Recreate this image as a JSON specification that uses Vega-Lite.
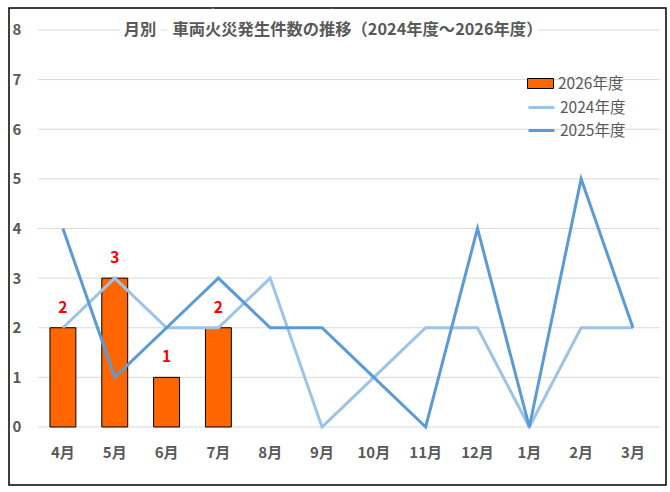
{
  "$schema": "https://vega.github.io/schema/vega-lite/v6.json",
  "width": 657,
  "height": 477,
  "autosize": "none",
  "padding": {"left": 9, "top": 8, "right": 4, "bottom": 7},
  "background": "white",
  "config": {
    "font": "Noto Sans CJK JP",
    "view": {"stroke": "black", "strokeWidth": 1.5},
    "legend": {"labelFont": "Noto Sans CJK JP", "labelFontSize": 15.5, "labelColor": "#595959", "padding": 0, "labelOffset": 4, "rowPadding": -4}
  },
  "data": {
    "values": [
      {"month": "4月", "series": "2026年度", "count": 2},
      {"month": "5月", "series": "2026年度", "count": 3},
      {"month": "6月", "series": "2026年度", "count": 1},
      {"month": "7月", "series": "2026年度", "count": 2},
      {"month": "4月", "series": "2024年度", "count": 2},
      {"month": "5月", "series": "2024年度", "count": 3},
      {"month": "6月", "series": "2024年度", "count": 2},
      {"month": "7月", "series": "2024年度", "count": 2},
      {"month": "8月", "series": "2024年度", "count": 3},
      {"month": "9月", "series": "2024年度", "count": 0},
      {"month": "10月", "series": "2024年度", "count": 1},
      {"month": "11月", "series": "2024年度", "count": 2},
      {"month": "12月", "series": "2024年度", "count": 2},
      {"month": "1月", "series": "2024年度", "count": 0},
      {"month": "2月", "series": "2024年度", "count": 2},
      {"month": "3月", "series": "2024年度", "count": 2},
      {"month": "4月", "series": "2025年度", "count": 4},
      {"month": "5月", "series": "2025年度", "count": 1},
      {"month": "6月", "series": "2025年度", "count": 2},
      {"month": "7月", "series": "2025年度", "count": 3},
      {"month": "8月", "series": "2025年度", "count": 2},
      {"month": "9月", "series": "2025年度", "count": 2},
      {"month": "10月", "series": "2025年度", "count": 1},
      {"month": "11月", "series": "2025年度", "count": 0},
      {"month": "12月", "series": "2025年度", "count": 4},
      {"month": "1月", "series": "2025年度", "count": 0},
      {"month": "2月", "series": "2025年度", "count": 5},
      {"month": "3月", "series": "2025年度", "count": 2}
    ]
  },
  "encoding": {
    "x": {
      "field": "month",
      "type": "nominal",
      "sort": null,
      "scale": {
        "domain": ["4月", "5月", "6月", "7月", "8月", "9月", "10月", "11月", "12月", "1月", "2月", "3月"],
        "paddingInner": 0.5,
        "paddingOuter": 0.589,
        "align": 0.671,
        "round": false
      },
      "axis": {
        "title": null,
        "orient": "bottom",
        "domain": false,
        "ticks": false,
        "labelAngle": 0,
        "labelPadding": -33,
        "labelBaseline": "middle",
        "labelFontSize": 15,
        "labelFontWeight": "bold",
        "labelColor": "#595959"
      }
    },
    "y": {
      "field": "count",
      "type": "quantitative",
      "scale": {"domain": [-1.169, 8.443], "nice": false, "zero": false},
      "axis": {
        "title": null,
        "values": [0, 1, 2, 3, 4, 5, 6, 7, 8],
        "domain": false,
        "ticks": false,
        "grid": false,
        "labelAlign": "left",
        "labelPadding": -3,
        "labelFontSize": 15,
        "labelFontWeight": "bold",
        "labelColor": "#595959"
      }
    }
  },
  "layer": [
    {
      "data": {"values": [
        {"g": 0, "a": "4月", "b": "3月"}, {"g": 1, "a": "4月", "b": "3月"}, {"g": 2, "a": "4月", "b": "3月"},
        {"g": 3, "a": "4月", "b": "3月"}, {"g": 4, "a": "4月", "b": "3月"}, {"g": 5, "a": "4月", "b": "3月"},
        {"g": 6, "a": "4月", "b": "3月"}, {"g": 7, "a": "4月", "b": "3月"}, {"g": 8, "a": "4月", "b": "3月"}
      ]},
      "mark": {"type": "rule", "color": "#D9D9D9", "strokeWidth": 1},
      "encoding": {
        "x": {"field": "a", "type": "nominal", "bandPosition": -0.463},
        "x2": {"field": "b", "bandPosition": 1.544},
        "y": {"field": "g", "type": "quantitative"}
      }
    },
    {
      "data": {"values": [{"t": "月別　車両火災発生件数の推移（2024年度～2026年度）", "m": "9月", "v": 8}]},
      "mark": {"type": "text", "fontSize": 16.3, "fontWeight": "bold", "stroke": "white", "strokeWidth": 12, "fill": "white", "dx": 11},
      "encoding": {"x": {"field": "m", "type": "nominal"}, "y": {"field": "v", "type": "quantitative"}, "text": {"field": "t"}}
    },
    {
      "data": {"values": [{"t": "月別　車両火災発生件数の推移（2024年度～2026年度）", "m": "9月", "v": 8}]},
      "mark": {"type": "text", "fontSize": 16.3, "fontWeight": "bold", "color": "#595959", "dx": 11},
      "encoding": {"x": {"field": "m", "type": "nominal"}, "y": {"field": "v", "type": "quantitative"}, "text": {"field": "t"}}
    },
    {
      "transform": [{"filter": "datum.series == '2026年度'"}],
      "mark": {"type": "bar", "stroke": "black", "strokeWidth": 1},
      "encoding": {
        "y2": {"datum": 0},
        "fill": {
          "field": "series",
          "type": "nominal",
          "scale": {"domain": ["2026年度"], "range": ["#FF6600"]},
          "legend": {
            "title": null,
            "orient": "none",
            "legendX": 518,
            "legendY": 62,
            "symbolType": "M-1,-0.385H1V0.385H-1Z",
            "symbolSize": 676,
            "symbolStrokeColor": "black",
            "symbolStrokeWidth": 1,
            "symbolOpacity": 1
          }
        }
      }
    },
    {
      "transform": [{"filter": "datum.series == '2026年度'"}],
      "mark": {"type": "text", "color": "#FF0000", "fontSize": 15.5, "fontWeight": "bold", "dy": -20},
      "encoding": {"text": {"field": "count", "type": "quantitative"}}
    },
    {
      "transform": [{"filter": "datum.series != '2026年度'"}],
      "mark": {"type": "line", "strokeWidth": 3},
      "encoding": {
        "stroke": {
          "field": "series",
          "type": "nominal",
          "scale": {"domain": ["2024年度", "2025年度"], "range": ["#9DC3E6", "#5B9BD5"]},
          "legend": {
            "title": null,
            "orient": "none",
            "legendX": 518,
            "legendY": 85,
            "symbolType": "stroke",
            "symbolSize": 676,
            "symbolStrokeWidth": 3
          }
        }
      }
    }
  ]
}
